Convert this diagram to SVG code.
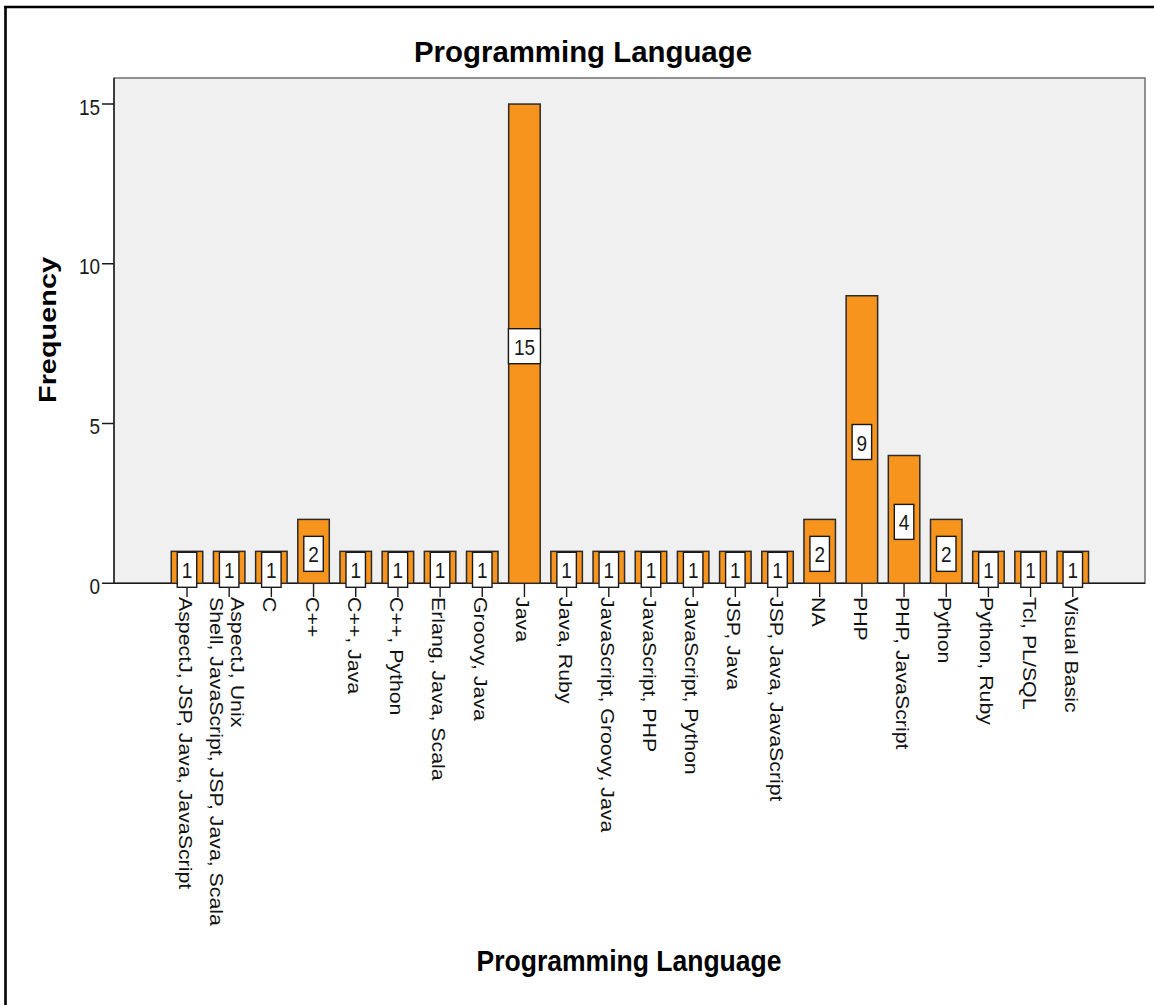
<svg xmlns="http://www.w3.org/2000/svg" width="1154" height="1005" viewBox="0 0 1154 1005">
<style>
.bar{fill:#F7941D;stroke:#2b2b2b;stroke-width:1.5}
.box{fill:#ffffff;stroke:#1a1a1a;stroke-width:1.4}
.num{font-family:"Liberation Sans",Arial,sans-serif;font-size:19px;fill:#1a1a1a;text-anchor:middle}
.tl{font-family:"Liberation Sans",Arial,sans-serif;font-size:19px;fill:#1a1a1a;text-anchor:end}
.lab{font-family:"Liberation Sans",Arial,sans-serif;font-size:18px;fill:#111}
.ttl{font-family:"Liberation Sans",Arial,sans-serif;font-size:24px;font-weight:bold;fill:#000;text-anchor:middle}
.tick{stroke:#1a1a1a;stroke-width:1.4;fill:none}
</style>
<rect x="0" y="0" width="1154" height="1005" fill="#ffffff"/>
<path d="M4 7 H1154 M5.5 6 V1005" stroke="#000" stroke-width="2.6" fill="none"/>
<g id="title"><text class="ttl" transform="translate(583,62) scale(1,1.2)" textLength="338" lengthAdjust="spacingAndGlyphs">Programming Language</text></g>
<g id="plot-area">
<rect x="114" y="78" width="1031" height="505.3" fill="#F0F0F0" stroke="#666" stroke-width="1.4"/>
</g>
<g id="y-axis">
<path class="tick" d="M114 78 V583.3 M102 583.3 H114 M102 423.55 H114 M102 263.8 H114 M102 104.05 H114"/>
<text class="tl" transform="translate(100,593.8) scale(1,1.2)">0</text>
<text class="tl" transform="translate(100,434.05) scale(1,1.2)">5</text>
<text class="tl" transform="translate(100,274.3) scale(1,1.2)">10</text>
<text class="tl" transform="translate(100,114.55) scale(1,1.2)">15</text>
<text class="ttl" transform="translate(56,330) rotate(-90)" font-size="26" textLength="146" lengthAdjust="spacingAndGlyphs">Frequency</text>
</g>
<g id="connectors">
<path class="tick" d="M114 583.3 H1145"/>
<path class="tick" d="M187 583.3 V597 M229.18 583.3 V597 M271.36 583.3 V597 M313.54 583.3 V597 M355.72 583.3 V597 M397.9 583.3 V597 M440.08 583.3 V597 M482.26 583.3 V597 M524.44 583.3 V597 M566.62 583.3 V597 M608.8 583.3 V597 M650.98 583.3 V597 M693.16 583.3 V597 M735.34 583.3 V597 M777.52 583.3 V597 M819.7 583.3 V597 M861.88 583.3 V597 M904.06 583.3 V597 M946.24 583.3 V597 M988.42 583.3 V597 M1030.6 583.3 V597 M1072.78 583.3 V597"/>
</g>
<g id="bar-0"><rect class="bar" x="171.25" y="551.35" width="31.5" height="31.95"/><rect class="box" x="177.25" y="552.3" width="19.5" height="35"/><text class="num" transform="translate(187,578.3) scale(1,1.2)">1</text><text class="lab" transform="translate(187,597) rotate(90) scale(1.185,1)" y="8">AspectJ, JSP, Java, JavaScript</text></g>
<g id="bar-1"><rect class="bar" x="213.43" y="551.35" width="31.5" height="31.95"/><rect class="box" x="219.43" y="552.3" width="19.5" height="35"/><text class="num" transform="translate(229.18,578.3) scale(1,1.2)">1</text><text class="lab" transform="translate(229.18,597) rotate(90) scale(1.185,1)"><tspan x="0" y="-1.5">AspectJ, Unix</tspan><tspan x="0" y="19">Shell, JavaScript, JSP, Java, Scala</tspan></text></g>
<g id="bar-2"><rect class="bar" x="255.61" y="551.35" width="31.5" height="31.95"/><rect class="box" x="261.61" y="552.3" width="19.5" height="35"/><text class="num" transform="translate(271.36,578.3) scale(1,1.2)">1</text><text class="lab" transform="translate(271.36,597) rotate(90) scale(1.185,1)" y="8">C</text></g>
<g id="bar-3"><rect class="bar" x="297.79" y="519.4" width="31.5" height="63.9"/><rect class="box" x="303.79" y="536.35" width="19.5" height="35"/><text class="num" transform="translate(313.54,562.35) scale(1,1.2)">2</text><text class="lab" transform="translate(313.54,597) rotate(90) scale(1.185,1)" y="8">C++</text></g>
<g id="bar-4"><rect class="bar" x="339.97" y="551.35" width="31.5" height="31.95"/><rect class="box" x="345.97" y="552.3" width="19.5" height="35"/><text class="num" transform="translate(355.72,578.3) scale(1,1.2)">1</text><text class="lab" transform="translate(355.72,597) rotate(90) scale(1.185,1)" y="8">C++, Java</text></g>
<g id="bar-5"><rect class="bar" x="382.15" y="551.35" width="31.5" height="31.95"/><rect class="box" x="388.15" y="552.3" width="19.5" height="35"/><text class="num" transform="translate(397.9,578.3) scale(1,1.2)">1</text><text class="lab" transform="translate(397.9,597) rotate(90) scale(1.185,1)" y="8">C++, Python</text></g>
<g id="bar-6"><rect class="bar" x="424.33" y="551.35" width="31.5" height="31.95"/><rect class="box" x="430.33" y="552.3" width="19.5" height="35"/><text class="num" transform="translate(440.08,578.3) scale(1,1.2)">1</text><text class="lab" transform="translate(440.08,597) rotate(90) scale(1.185,1)" y="8">Erlang, Java, Scala</text></g>
<g id="bar-7"><rect class="bar" x="466.51" y="551.35" width="31.5" height="31.95"/><rect class="box" x="472.51" y="552.3" width="19.5" height="35"/><text class="num" transform="translate(482.26,578.3) scale(1,1.2)">1</text><text class="lab" transform="translate(482.26,597) rotate(90) scale(1.185,1)" y="8">Groovy, Java</text></g>
<g id="bar-8"><rect class="bar" x="508.69" y="104.05" width="31.5" height="479.25"/><rect class="box" x="508.44" y="328.7" width="32" height="35"/><text class="num" transform="translate(524.44,354.7) scale(1,1.2)">15</text><text class="lab" transform="translate(524.44,597) rotate(90) scale(1.185,1)" y="8">Java</text></g>
<g id="bar-9"><rect class="bar" x="550.87" y="551.35" width="31.5" height="31.95"/><rect class="box" x="556.87" y="552.3" width="19.5" height="35"/><text class="num" transform="translate(566.62,578.3) scale(1,1.2)">1</text><text class="lab" transform="translate(566.62,597) rotate(90) scale(1.185,1)" y="8">Java, Ruby</text></g>
<g id="bar-10"><rect class="bar" x="593.05" y="551.35" width="31.5" height="31.95"/><rect class="box" x="599.05" y="552.3" width="19.5" height="35"/><text class="num" transform="translate(608.8,578.3) scale(1,1.2)">1</text><text class="lab" transform="translate(608.8,597) rotate(90) scale(1.185,1)" y="8">JavaScript, Groovy, Java</text></g>
<g id="bar-11"><rect class="bar" x="635.23" y="551.35" width="31.5" height="31.95"/><rect class="box" x="641.23" y="552.3" width="19.5" height="35"/><text class="num" transform="translate(650.98,578.3) scale(1,1.2)">1</text><text class="lab" transform="translate(650.98,597) rotate(90) scale(1.185,1)" y="8">JavaScript, PHP</text></g>
<g id="bar-12"><rect class="bar" x="677.41" y="551.35" width="31.5" height="31.95"/><rect class="box" x="683.41" y="552.3" width="19.5" height="35"/><text class="num" transform="translate(693.16,578.3) scale(1,1.2)">1</text><text class="lab" transform="translate(693.16,597) rotate(90) scale(1.185,1)" y="8">JavaScript, Python</text></g>
<g id="bar-13"><rect class="bar" x="719.59" y="551.35" width="31.5" height="31.95"/><rect class="box" x="725.59" y="552.3" width="19.5" height="35"/><text class="num" transform="translate(735.34,578.3) scale(1,1.2)">1</text><text class="lab" transform="translate(735.34,597) rotate(90) scale(1.185,1)" y="8">JSP, Java</text></g>
<g id="bar-14"><rect class="bar" x="761.77" y="551.35" width="31.5" height="31.95"/><rect class="box" x="767.77" y="552.3" width="19.5" height="35"/><text class="num" transform="translate(777.52,578.3) scale(1,1.2)">1</text><text class="lab" transform="translate(777.52,597) rotate(90) scale(1.185,1)" y="8">JSP, Java, JavaScript</text></g>
<g id="bar-15"><rect class="bar" x="803.95" y="519.4" width="31.5" height="63.9"/><rect class="box" x="809.95" y="536.35" width="19.5" height="35"/><text class="num" transform="translate(819.7,562.35) scale(1,1.2)">2</text><text class="lab" transform="translate(819.7,597) rotate(90) scale(1.185,1)" y="8">NA</text></g>
<g id="bar-16"><rect class="bar" x="846.13" y="295.75" width="31.5" height="287.55"/><rect class="box" x="852.13" y="424.5" width="19.5" height="35"/><text class="num" transform="translate(861.88,450.5) scale(1,1.2)">9</text><text class="lab" transform="translate(861.88,597) rotate(90) scale(1.185,1)" y="8">PHP</text></g>
<g id="bar-17"><rect class="bar" x="888.31" y="455.5" width="31.5" height="127.8"/><rect class="box" x="894.31" y="504.4" width="19.5" height="35"/><text class="num" transform="translate(904.06,530.4) scale(1,1.2)">4</text><text class="lab" transform="translate(904.06,597) rotate(90) scale(1.185,1)" y="8">PHP, JavaScript</text></g>
<g id="bar-18"><rect class="bar" x="930.49" y="519.4" width="31.5" height="63.9"/><rect class="box" x="936.49" y="536.35" width="19.5" height="35"/><text class="num" transform="translate(946.24,562.35) scale(1,1.2)">2</text><text class="lab" transform="translate(946.24,597) rotate(90) scale(1.185,1)" y="8">Python</text></g>
<g id="bar-19"><rect class="bar" x="972.67" y="551.35" width="31.5" height="31.95"/><rect class="box" x="978.67" y="552.3" width="19.5" height="35"/><text class="num" transform="translate(988.42,578.3) scale(1,1.2)">1</text><text class="lab" transform="translate(988.42,597) rotate(90) scale(1.185,1)" y="8">Python, Ruby</text></g>
<g id="bar-20"><rect class="bar" x="1014.85" y="551.35" width="31.5" height="31.95"/><rect class="box" x="1020.85" y="552.3" width="19.5" height="35"/><text class="num" transform="translate(1030.6,578.3) scale(1,1.2)">1</text><text class="lab" transform="translate(1030.6,597) rotate(90) scale(1.185,1)" y="8">Tcl, PL/SQL</text></g>
<g id="bar-21"><rect class="bar" x="1057.03" y="551.35" width="31.5" height="31.95"/><rect class="box" x="1063.03" y="552.3" width="19.5" height="35"/><text class="num" transform="translate(1072.78,578.3) scale(1,1.2)">1</text><text class="lab" transform="translate(1072.78,597) rotate(90) scale(1.185,1)" y="8">Visual Basic</text></g>
<g id="x-title"><text class="ttl" transform="translate(629,970.7) scale(1,1.2)" textLength="305" lengthAdjust="spacingAndGlyphs">Programming Language</text></g>
</svg>
